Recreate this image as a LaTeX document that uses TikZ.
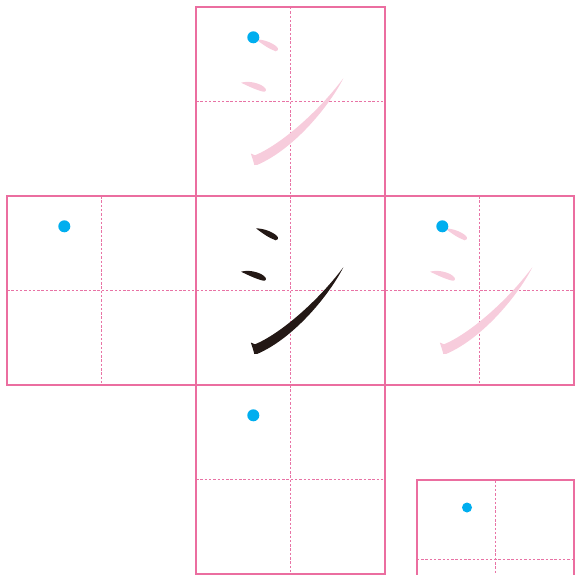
\documentclass[tikz,border=0pt]{standalone}
\definecolor{boxpink}{RGB}{235,110,160}
\definecolor{guidepink}{RGB}{232,115,165}
\definecolor{strokepink}{RGB}{247,204,220}
\definecolor{dotblue}{RGB}{0,174,239}
\definecolor{inkblack}{RGB}{35,24,21}
\tikzset{
  gridbox/.style={draw=boxpink, line width=1.9pt},
  guide/.style={draw=guidepink, line width=0.9pt, dash pattern=on 2.5pt off 1.8pt},
  startdot/.style={fill=dotblue, draw=none},
  inkpink/.style={fill=strokepink, draw=none},
  inkdark/.style={fill=inkblack, draw=none},
}
\newcommand\charstrokes[3]{%
  \begin{scope}[shift={(#1,#2)}]
    \fill[#3] (60,32.3) .. controls (68,32.5) and (77,36) .. (81,40)
      .. controls (83,42) and (82,44.6) .. (79.7,44.3)
      .. controls (73,42) and (66,37) .. (60,32.3) -- cycle;
    \fill[#3] (45,75.7) .. controls (53,73.5) and (63,76) .. (68,80)
      .. controls (71,82) and (70.5,85.2) .. (67.3,84.7)
      .. controls (60,83) and (52,79) .. (45,75.7) -- cycle;
    \fill[#3] (147.3,71.3) .. controls (135,96) and (100,141) .. (61.5,157.8)
      -- (58.3,158) .. controls (57.3,154) and (56,150) .. (54.8,146.5)
      -- (59,148.3)
      .. controls (85,137.5) and (123,104) .. (147.3,71.3) -- cycle;
  \end{scope}}
\begin{document}
\begin{tikzpicture}[x=1pt,y=-1pt]
\useasboundingbox (0,0) rectangle (574,575);
% guides
\draw[guide] (290.5,7) -- (290.5,196) (196,101.5) -- (385,101.5);
\draw[guide] (7,290.5) -- (574,290.5);
\draw[guide] (101.5,196) -- (101.5,385) (290.5,196) -- (290.5,385) (479.5,196) -- (479.5,385);
\draw[guide] (290.5,385) -- (290.5,574) (196,479.5) -- (385,479.5);
\draw[guide] (495.3,480.3) -- (495.3,580) (416.7,559) -- (580,559);
% strokes
\charstrokes{196}{7}{inkpink}
\charstrokes{385}{196}{inkpink}
\charstrokes{196}{196}{inkdark}
% boxes
\draw[gridbox] (196,7) rectangle (385,196);
\draw[gridbox] (7,196) rectangle (196,385);
\draw[gridbox] (196,196) rectangle (385,385);
\draw[gridbox] (385,196) rectangle (574,385);
\draw[gridbox] (196,385) rectangle (385,574);
\draw[gridbox] (416.7,480.3) rectangle (574,637.6);
% start dots
\fill[startdot] (253.3,37.3) circle (6);
\fill[startdot] (64.3,226.3) circle (6);
\fill[startdot] (442.3,226.3) circle (6);
\fill[startdot] (253.3,415.3) circle (6);
\fill[startdot] (467,507.5) circle (5);
\end{tikzpicture}
\end{document}
